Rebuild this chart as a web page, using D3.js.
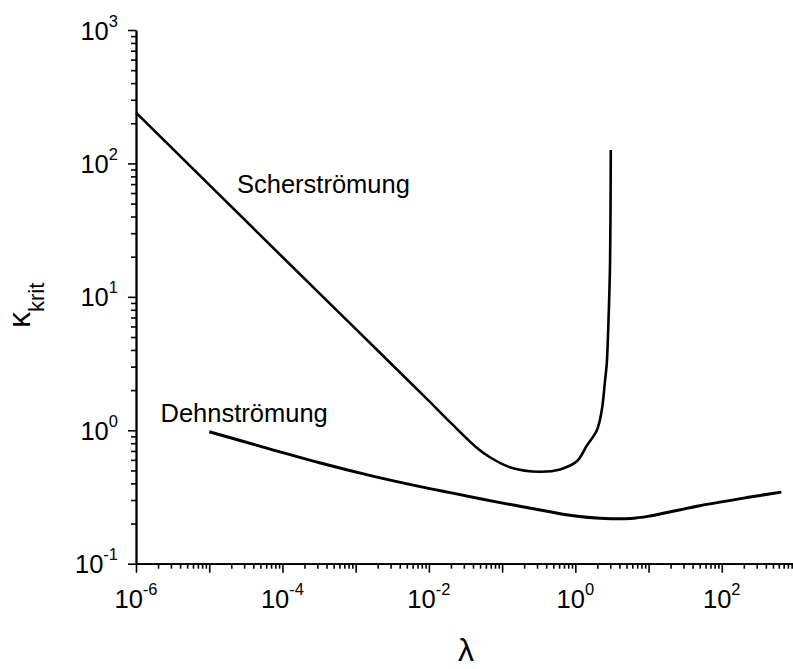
<!DOCTYPE html>
<html>
<head>
<meta charset="utf-8">
<script src="https://cdn.jsdelivr.net/npm/d3@7"></script>
<style>
  html, body { margin: 0; padding: 0; background: #fff; }
  svg text { font-family: "Liberation Sans", Arial, sans-serif; fill: #000; }
</style>
</head>
<body>
<svg id="chart" width="793" height="669"></svg>
<script>
// ---- data ----
const scherLambda = [1e-6, 1e-4, 1e-3, 1e-2, 0.0195, 0.045, 0.069, 0.13, 0.33, 0.62, 1.05, 1.44, 1.97, 2.3, 2.55, 2.69, 2.83, 2.98, 3.05];
const scherKappa  = [240, 19.9, 5.75, 1.66, 1.15, 0.74, 0.625, 0.527, 0.489, 0.509, 0.585, 0.77, 1.0, 1.42, 2.38, 3.19, 6.37, 17.9, 126];

const dehnLambda = [1e-5, 6.8e-5, 3.3e-4, 1.6e-3, 7.6e-3, 0.0195, 0.094, 0.45, 0.94, 2.2, 5.6, 10.5, 50, 245, 650];
const dehnKappa  = [0.975, 0.723, 0.568, 0.457, 0.378, 0.341, 0.287, 0.245, 0.229, 0.219, 0.218, 0.228, 0.272, 0.316, 0.344];

const xLabelExponents = [-6, -4, -2, 0, 2];
const yLabelExponents = [-1, 0, 1, 2, 3];
const xMajorExponents = [-6, -5, -4, -3, -2, -1, 0, 1, 2, 3];
const yMajorExponents = [-1, 0, 1, 2, 3];

const curveLabels = ["Scherströmung", "Dehnströmung"];
const xTitle = "λ";
const yTitleMain = "κ";
const yTitleSub = "krit";

// ---- drawing ----
const svg = d3.select("#chart");
const x = d3.scaleLog().domain([1e-6, 1e3]).range([136, 795]);
const y = d3.scaleLog().domain([0.1, 1000]).range([563.7, 30]);

const minorVals = (lo, hi) => {
  const out = [];
  for (let e = lo; e < hi; e++) for (let m = 2; m <= 9; m++) out.push(m * Math.pow(10, e));
  return out;
};

const styleAxis = g => {
  g.selectAll("path.domain").attr("stroke", "#000").attr("stroke-width", 1.8);
  g.selectAll(".tick line").attr("stroke", "#000").attr("stroke-width", 1.6);
  g.selectAll(".tick text").remove();
};

// X axis
svg.append("g").attr("transform", `translate(0,${y(0.1)})`)
  .call(d3.axisBottom(x).tickValues(minorVals(-6, 3)).tickSize(5).tickSizeOuter(0).tickFormat(""))
  .call(styleAxis);
svg.append("g").attr("transform", `translate(0,${y(0.1)})`)
  .call(d3.axisBottom(x).tickValues(xMajorExponents.map(e => Math.pow(10, e))).tickSize(9).tickSizeOuter(0).tickFormat(""))
  .call(styleAxis);

// Y axis
svg.append("g").attr("transform", `translate(${x(1e-6)},0)`)
  .call(d3.axisLeft(y).tickValues(minorVals(-1, 3)).tickSize(5).tickSizeOuter(0).tickFormat(""))
  .call(styleAxis);
svg.append("g").attr("transform", `translate(${x(1e-6)},0)`)
  .call(d3.axisLeft(y).tickValues(yMajorExponents.map(e => Math.pow(10, e))).tickSize(8).tickSizeOuter(0).tickFormat(""))
  .call(styleAxis);

// tick labels with superscripts
xLabelExponents.forEach(e => {
  const t = svg.append("text")
    .attr("x", x(Math.pow(10, e)))
    .attr("y", 608)
    .attr("text-anchor", "middle")
    .attr("font-size", 25.5);
  t.append("tspan").text("10");
  t.append("tspan").attr("font-size", 16.5).attr("dy", -13).text(e < 0 ? "-" + (-e) : String(e));
});
yLabelExponents.forEach(e => {
  const t = svg.append("text")
    .attr("x", 118)
    .attr("y", y(Math.pow(10, e)) + 9.5)
    .attr("text-anchor", "end")
    .attr("font-size", 25.5);
  t.append("tspan").text("10");
  t.append("tspan").attr("font-size", 16.5).attr("dy", -13).text(e < 0 ? "-" + (-e) : String(e));
});

// curves
const line = d3.line().x(d => x(d[0])).y(d => y(d[1])).curve(d3.curveCatmullRom.alpha(0.5));
svg.append("path")
  .datum(scherLambda.map((l, i) => [l, scherKappa[i]]))
  .attr("d", line).attr("fill", "none").attr("stroke", "#000").attr("stroke-width", 2.6);
svg.append("path")
  .datum(dehnLambda.map((l, i) => [l, dehnKappa[i]]))
  .attr("d", line).attr("fill", "none").attr("stroke", "#000").attr("stroke-width", 3);

// curve labels
svg.append("text").attr("x", 237).attr("y", 193).attr("font-size", 25.5).text(curveLabels[0]);
svg.append("text").attr("x", 160.5).attr("y", 422).attr("font-size", 25.5).text(curveLabels[1]);

// axis titles
svg.append("text").attr("x", 466).attr("y", 661).attr("text-anchor", "middle").attr("font-size", 32).text(xTitle);
const yt = svg.append("text").attr("transform", "translate(30,328) rotate(-90)").attr("font-size", 32);
yt.append("tspan").text(yTitleMain);
yt.append("tspan").attr("font-size", 22).attr("dy", 14).text(yTitleSub);
</script>
</body>
</html>
